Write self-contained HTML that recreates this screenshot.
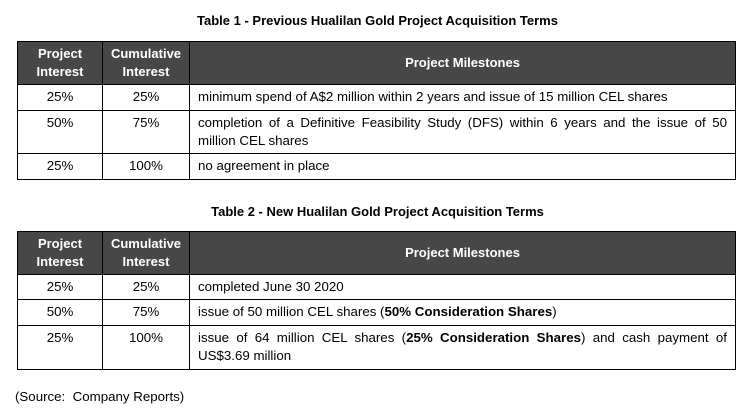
<!DOCTYPE html>
<html><head><meta charset="utf-8"><style>
body{margin:0;width:755px;height:415px;background:#fff;position:relative;font-family:"Liberation Sans",Arial,sans-serif;color:#000;overflow:hidden}
.t{position:absolute;font-weight:bold;font-size:13px;white-space:nowrap}
table{position:absolute;left:17px;width:719px;border-collapse:collapse;font-size:13.3px}
td,th{border:1px solid #000;padding:0}
th{background:#474747;color:#fff;font-weight:bold;line-height:18px;font-size:13px}
td{line-height:18px;vertical-align:top;padding-top:3px}
td.c{text-align:center}
td.l{padding-left:8px;padding-right:8px;text-align:justify;text-align-last:left}
.src{position:absolute;left:15px;top:389px;font-size:13.3px}
</style></head><body>
<div class="t" style="left:0;width:755px;text-align:center;top:13px">Table 1 - Previous Hualilan Gold Project Acquisition Terms</div>
<table style="top:41px">
<colgroup><col style="width:85px"><col style="width:87px"><col></colgroup>
<tr style="height:43px"><th>Project<br>Interest</th><th>Cumulative<br>Interest</th><th>Project Milestones</th></tr>
<tr style="height:26px"><td class="c">25%</td><td class="c">25%</td><td class="l">minimum spend of A$2 million within 2 years and issue of 15 million CEL shares</td></tr>
<tr style="height:43px"><td class="c">50%</td><td class="c">75%</td><td class="l"><span style="display:inline-block;width:100%;text-align:justify;text-align-last:justify">completion of a Definitive Feasibility Study (DFS) within 6 years and the issue of 50</span><br>million CEL shares</td></tr>
<tr style="height:26px"><td class="c">25%</td><td class="c">100%</td><td class="l">no agreement in place</td></tr>
</table>
<div class="t" style="left:0;width:755px;text-align:center;top:204px">Table 2 - New Hualilan Gold Project Acquisition Terms</div>
<table style="top:231px">
<colgroup><col style="width:85px"><col style="width:87px"><col></colgroup>
<tr style="height:43px"><th>Project<br>Interest</th><th>Cumulative<br>Interest</th><th>Project Milestones</th></tr>
<tr style="height:25px"><td class="c">25%</td><td class="c">25%</td><td class="l">completed June 30 2020</td></tr>
<tr style="height:26px"><td class="c">50%</td><td class="c">75%</td><td class="l">issue of 50 million CEL shares (<b>50% Consideration Shares</b>)</td></tr>
<tr style="height:44px"><td class="c">25%</td><td class="c">100%</td><td class="l"><span style="display:inline-block;width:100%;text-align:justify;text-align-last:justify">issue of 64 million CEL shares (<b>25% Consideration Shares</b>) and cash payment of</span><br>US$3.69 million</td></tr>
</table>
<div class="src">(Source:&nbsp; Company Reports)</div>
</body></html>
